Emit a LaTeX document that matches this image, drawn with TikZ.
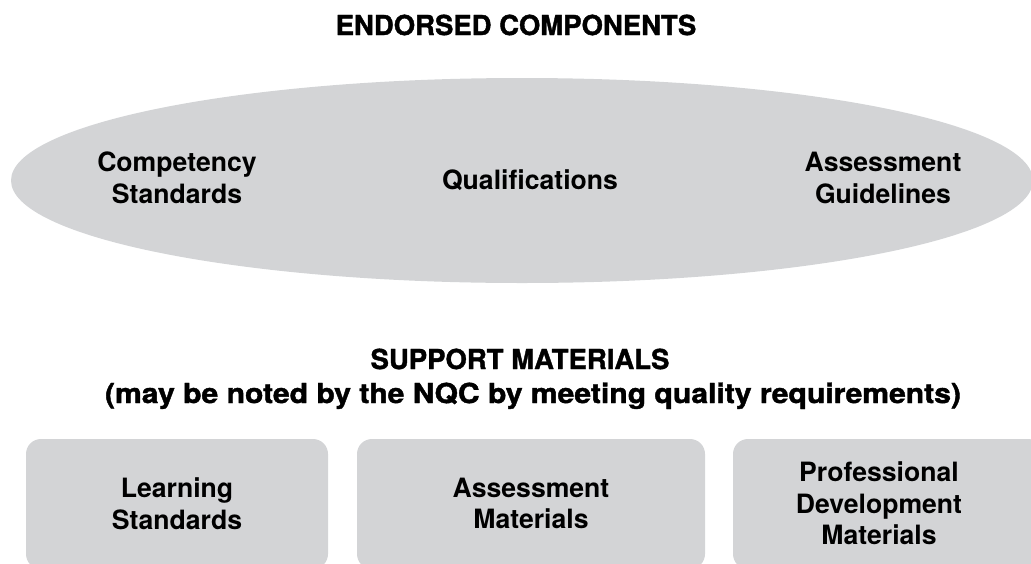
\documentclass[tikz,border=0pt]{standalone}
\usepackage{fontspec}
\setmainfont{TeX Gyre Heros}
\newfontfamily\heavyfont[BoldFeatures={FakeBold=1.4}]{TeX Gyre Heros}
\usetikzlibrary{shapes.geometric}
\definecolor{panel}{RGB}{211,212,214}
\begin{document}
\begin{tikzpicture}[x=1pt,y=-1pt,
  lbl/.style={font=\bfseries\fontsize{26.6}{31.5}\selectfont, align=center, text=black, inner sep=0pt},
  head/.style={font=\heavyfont\bfseries\fontsize{27.5}{34}\selectfont, anchor=base, inner sep=0pt},
  panelbox/.style={fill=panel, draw=none, rounded corners=15pt, inner sep=0pt},
  oval/.style={ellipse, fill=panel, draw=none, inner sep=0pt}]
\useasboundingbox (0,0) rectangle (1031,563);
\begin{scope}
\clip (0,0) rectangle (1031,563);
% headings
\node[head] (h1) at (516,35) {ENDORSED COMPONENTS};
\node[head] (h2) at (520,369) {SUPPORT MATERIALS};
\node[head] (h3) at (533,403) {\scalebox{1.094}[1]{(may be noted by the NQC by meeting quality requirements)}};
% endorsed components oval
\node[oval, minimum width=1022pt, minimum height=205pt] (ov) at (522,180.5) {};
\node[lbl] (c1) at (177,178) {Competency\\Standards};
\node[lbl] (c2) at (530,180) {Qualifications};
\node[lbl] (c3) at (883,178) {Assessment\\Guidelines};
% support materials boxes
\node[panelbox, minimum width=302pt, minimum height=130pt] (b1) at (177,504) {};
\node[panelbox, minimum width=348pt, minimum height=130pt] (b2) at (531,504) {};
\node[panelbox, minimum width=310pt, minimum height=130pt] (b3) at (888,504) {};
\node[lbl] (t1) at (177,503.5) {Learning\\Standards};
\node[lbl] (t2) at (531,503.5) {Assessment\\Materials};
\node[lbl] (t3) at (879,503.5) {Professional\\Development\\Materials};
\end{scope}
\end{tikzpicture}
\end{document}
